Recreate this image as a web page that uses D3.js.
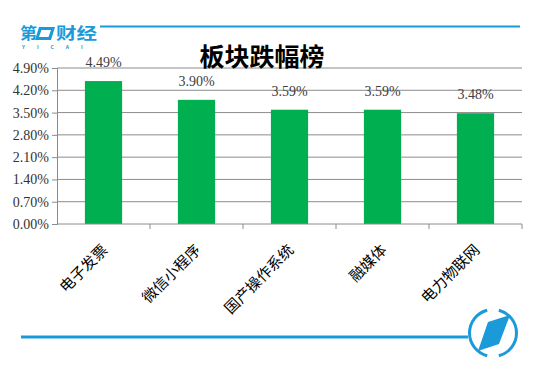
<!DOCTYPE html>
<html>
<head>
<meta charset="utf-8">
<script src="https://cdn.jsdelivr.net/npm/d3@7"></script>
<style>
body { margin: 0; background: #fff; }
</style>
</head>
<body>
<div id="chart"></div>
<script>
// data
const categories = ["电子发票", "微信小程序", "国产操作系统", "融媒体", "电力物联网"];
const values = [4.49, 3.90, 3.59, 3.59, 3.48];
const yTicks = [0, 0.7, 1.4, 2.1, 2.8, 3.5, 4.2, 4.9];
const title = "板块跌幅榜";

const width = 550, height = 376;
const margin = {top: 68, right: 28, bottom: 152, left: 57};

const svg = d3.select("#chart").append("svg")
  .attr("width", width)
  .attr("height", height);

const x = d3.scaleBand()
  .domain(categories)
  .range([margin.left, width - margin.right])
  .paddingInner(0.6).paddingOuter(0.3);

const y = d3.scaleLinear()
  .domain([0, 4.9])
  .range([height - margin.bottom, margin.top]);

const fmt = d => d.toFixed(2) + "%";
const serif = "'Liberation Serif', 'Times New Roman', serif";

// gridlines
svg.append("g").selectAll("line")
  .data(yTicks.slice(1))
  .enter().append("line")
  .attr("x1", margin.left).attr("x2", width - margin.right)
  .attr("y1", d => y(d)).attr("y2", d => y(d))
  .attr("stroke", "#8c8c8c").attr("stroke-width", 1);

// bars
svg.append("g").selectAll("rect")
  .data(values)
  .enter().append("rect")
  .attr("x", (d, i) => x(categories[i]))
  .attr("width", x.bandwidth())
  .attr("y", d => y(d))
  .attr("height", d => y(0) - y(d))
  .attr("fill", "#00b050");

// value labels
svg.append("g").selectAll("text")
  .data(values)
  .enter().append("text")
  .attr("x", (d, i) => x(categories[i]) + x.bandwidth() / 2)
  .attr("y", d => y(d) - 14)
  .attr("text-anchor", "middle")
  .attr("font-family", serif)
  .attr("font-size", 14)
  .attr("fill", "#404040")
  .text(fmt);

// y axis
const yAxis = g => g
  .attr("transform", `translate(${margin.left},0)`)
  .call(d3.axisLeft(y).tickValues(yTicks).tickFormat(fmt).tickSize(5).tickPadding(3))
  .call(g => g.selectAll("line, path").attr("stroke", "#8c8c8c"))
  .call(g => g.selectAll("text")
    .attr("font-family", serif)
    .attr("font-size", 14)
    .attr("fill", "#333"));
svg.append("g").call(yAxis);

// x axis: ticks at category boundaries
const step = x.step();
const xAxisLine = svg.append("g");
xAxisLine.append("line")
  .attr("x1", margin.left).attr("x2", width - margin.right)
  .attr("y1", y(0)).attr("y2", y(0))
  .attr("stroke", "#8c8c8c");
xAxisLine.selectAll(".tk")
  .data(categories)
  .enter().append("line")
  .attr("x1", d => x(d) + x.bandwidth() / 2 + step / 2)
  .attr("x2", d => x(d) + x.bandwidth() / 2 + step / 2)
  .attr("y1", y(0)).attr("y2", y(0) + 5)
  .attr("stroke", "#8c8c8c");

svg.append("g").selectAll("text")
  .data(categories)
  .enter().append("text")
  .attr("transform", d => `translate(${x(d) + x.bandwidth() / 2 + 5},${y(0) + 27}) rotate(-45)`)
  .attr("text-anchor", "end")
  .attr("font-family", "'Noto Sans CJK SC', sans-serif")
  .attr("font-size", 15)
  .attr("fill", "#000")
  .text(d => d);

// title
svg.append("text")
  .attr("x", 262).attr("y", 66)
  .attr("text-anchor", "middle")
  .attr("font-family", "'Noto Sans CJK SC', sans-serif")
  .attr("font-weight", "bold")
  .attr("font-size", 25)
  .attr("fill", "#000")
  .text(title);

// branding: top logo and line
const blue = "#1a9ad9";
svg.append("line")
  .attr("x1", 100).attr("x2", 520).attr("y1", 26.5).attr("y2", 26.5)
  .attr("stroke", blue).attr("stroke-width", 2);
const logo = svg.append("g").attr("fill", blue)
  .attr("font-family", "'Noto Sans CJK SC', sans-serif").attr("font-weight", "bold");
logo.append("text").attr("x", 20).attr("y", 39).attr("font-size", 16)
  .attr("textLength", 17).attr("lengthAdjust", "spacingAndGlyphs").text("第");
logo.append("path").attr("d", "M39,27 L55,27 L51,40 L35,40 Z M41.5,30 L39,37 L48.5,37 L51,30 Z")
  .attr("fill-rule", "evenodd");
logo.append("text").attr("x", 56).attr("y", 39).attr("font-size", 16)
  .attr("textLength", 41).attr("lengthAdjust", "spacingAndGlyphs").text("财经");
logo.append("text").attr("x", 22).attr("y", 49).attr("font-size", 5)
  .attr("letter-spacing", 12).text("YICAI");

// bottom line and round logo
svg.append("line")
  .attr("x1", 21).attr("x2", 468).attr("y1", 337).attr("y2", 337)
  .attr("stroke", blue).attr("stroke-width", 3);
const arc = d3.arc().innerRadius(22).outerRadius(25);
const rl = svg.append("g").attr("transform", "translate(493,333)");
rl.append("path").attr("d", arc({startAngle: 0.25, endAngle: Math.PI - 0.25})).attr("fill", blue);
rl.append("path").attr("d", arc({startAngle: Math.PI + 0.25, endAngle: 2 * Math.PI - 0.25})).attr("fill", blue);
rl.append("path").attr("d", "M-5,-11 L17,-18 L6,11 L-15,18 Z").attr("fill", blue);
</script>
</body>
</html>
